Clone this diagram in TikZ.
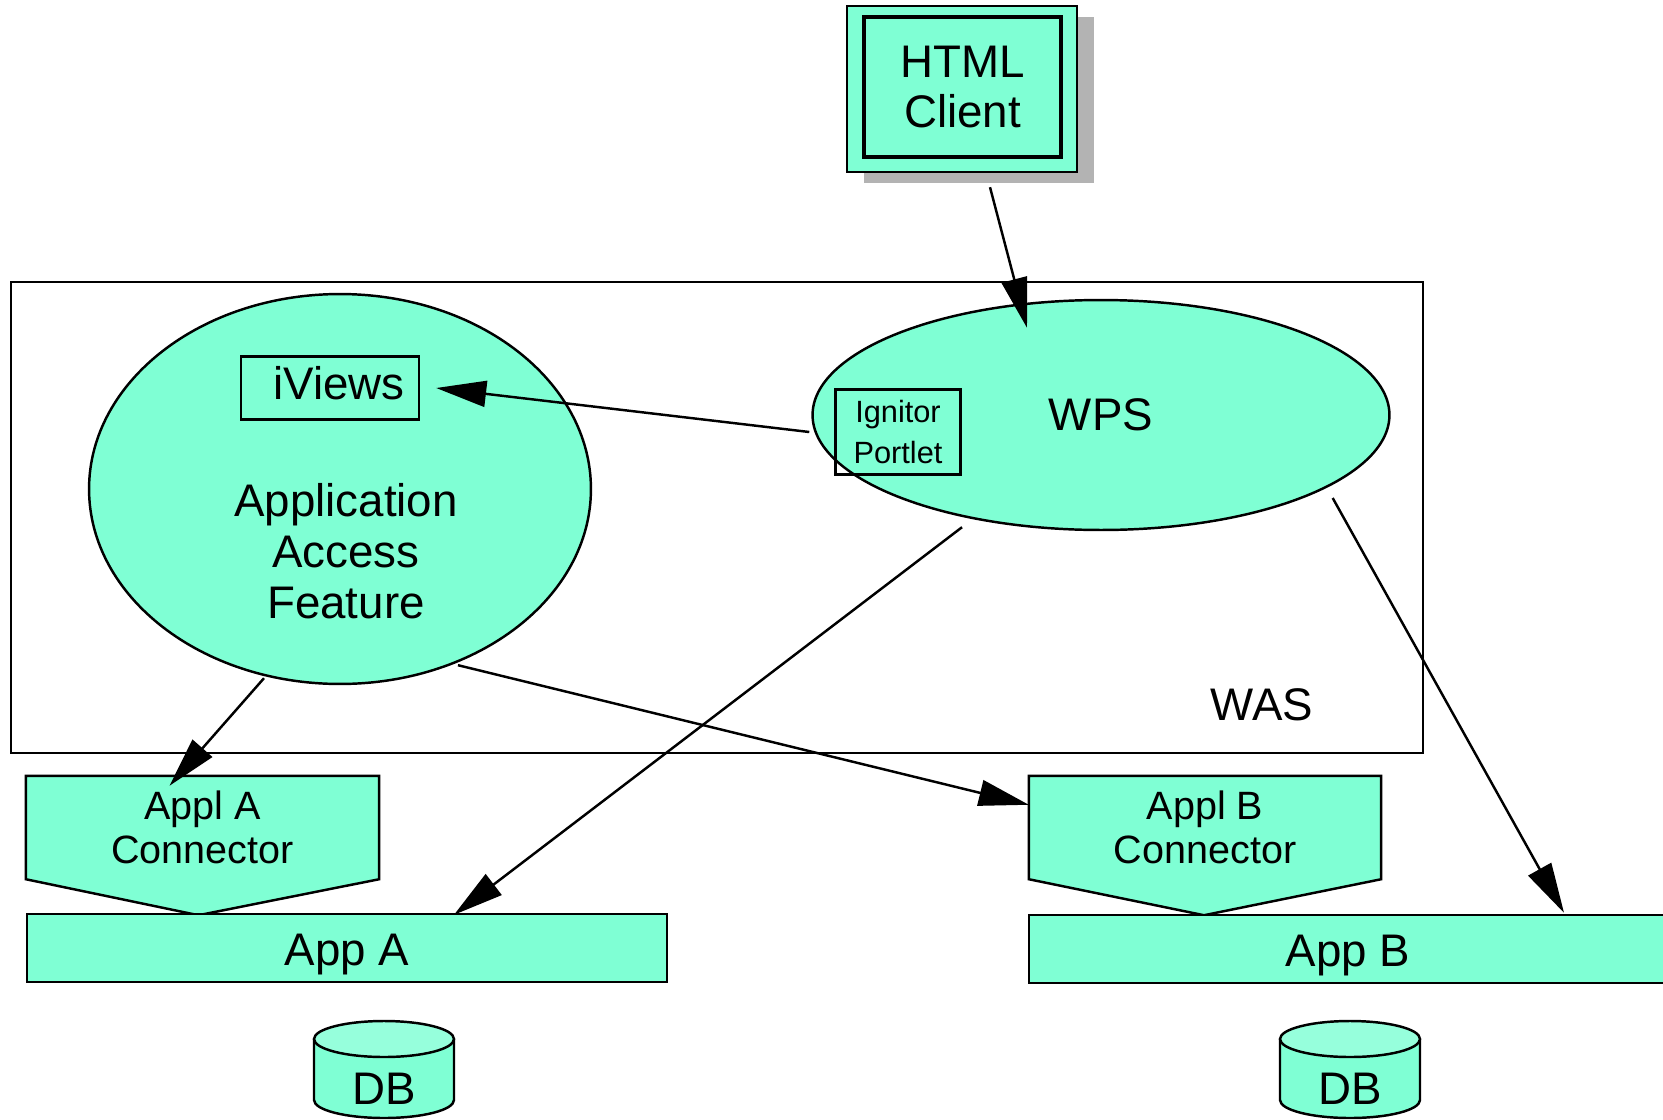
\documentclass[tikz,border=0pt]{standalone}
\usepackage{fontspec}
\setmainfont{Liberation Sans}
\usetikzlibrary{shapes.geometric,arrows.meta,calc}
\definecolor{aqua}{HTML}{7FFFD4}
\definecolor{aqualight}{HTML}{96FFDC}
\definecolor{shadowgray}{HTML}{B3B3B3}

\begin{document}
\begin{tikzpicture}[x=0.02cm,y=-0.02cm,line width=1.4pt,
		big/.style={font=\fontsize{26}{29}\selectfont,align=center,inner sep=0pt},
		mid/.style={font=\fontsize{22.5}{25}\selectfont,align=center,inner sep=0pt},
		small/.style={font=\fontsize{17.5}{23}\selectfont,align=center,inner sep=0pt},
		blob/.style={ellipse,draw,fill=aqua,inner sep=0pt},
		bar/.style={rectangle,draw,fill=aqua,inner sep=0pt,text height=20.4pt,text depth=0pt},
		arr/.style={-{Triangle[length=1cm,width=0.52cm]}}]
		\useasboundingbox (0,0) rectangle (1663,1119);
		\draw (11,282) rectangle (1423,753);
		\fill[shadowgray] (864,17) rectangle (1094,183);
		\node[bar,minimum width=4.6cm,minimum height=3.32cm](html) at (962,89) {};
		\node[big,draw,line width=2pt,minimum width=3.94cm,minimum height=2.8cm](htmlin) at (962.5,87) {HTML\\Client};
		\node[blob,minimum width=10.04cm,minimum height=7.8cm](aaf) at (340,489) {};
		\node[draw,minimum width=3.56cm,minimum height=1.26cm](iv) at (330,388) {};
		\node[big](ivtext) at (339,383) {iViews};
		\node[big](aaftext) at (346,551) {Application\\Access\\Feature};
		\node[blob,big,minimum width=11.54cm,minimum height=4.6cm](wps) at (1101,415) {WPS};
		\node[small,draw,minimum width=2.5cm,minimum height=1.7cm](ign) at (898,432) {Ignitor\\Portlet};
		\node[big](was) at (1262,705) {WAS};
		\node[minimum width=7.02cm,minimum height=2.02cm](apa) at (202.5,827.5) {};
		\node[minimum width=7cm,minimum height=2.02cm](apb) at (1205,827.5) {};
		\filldraw[fill=aqua] (apa.north west) -- (apa.north east) -- (apa.south east) -- ($(apa.south)+(-4,36)$) -- (apa.south west) -- cycle;
		\filldraw[fill=aqua] (apb.north west) -- (apb.north east) -- (apb.south east) -- ($(apb.south)+(-1,36)$) -- (apb.south west) -- cycle;
		\node[mid](apatext) at (apa) {Appl A\\Connector};
		\node[mid](apbtext) at (apb) {Appl B\\Connector};
		\node[bar,big,minimum width=12.8cm,minimum height=1.36cm](appa) at (347,948) {App A};
		\node[bar,big,minimum width=12.76cm,minimum height=1.36cm](appb) at (1348,949) {App B};
		\filldraw[fill=aqua] (314,1039) -- (314,1100) arc[start angle=180,end angle=0,x radius=70,y radius=18] -- (454,1039);
		\filldraw[fill=aqualight] (384,1039) ellipse [x radius=70,y radius=18];
		\node[big](dba) at (384,1089) {DB};
		\filldraw[fill=aqua] (1280,1039) -- (1280,1100) arc[start angle=180,end angle=0,x radius=70,y radius=18] -- (1420,1039);
		\filldraw[fill=aqualight] (1350,1039) ellipse [x radius=70,y radius=18];
		\node[big](dbb) at (1350,1089) {DB};
		\draw[arr] ($(html.south)+(28,14)$) -- ($(wps.north)+(-74,29)$);
		\draw[arr] ($(ign.west)+(-25,0)$) -- ($(iv.east)+(16,0)$);
		\draw[arr] ($(wps.south)+(-139,-4)$) -- ($(appa.north)+(107,2)$);
		\draw[arr] ($(wps.east)+(-58,83)$) -- ($(appb.north)+(216,-1)$);
		\draw[arr] ($(aaf.south)+(-76,-7)$) -- ($(apa.north)+(-33,10)$);
		\draw[arr] ($(aaf.south)+(118,-20)$) -- ($(apb.north west)+(0,29)$);
	\end{tikzpicture}
\end{document}
